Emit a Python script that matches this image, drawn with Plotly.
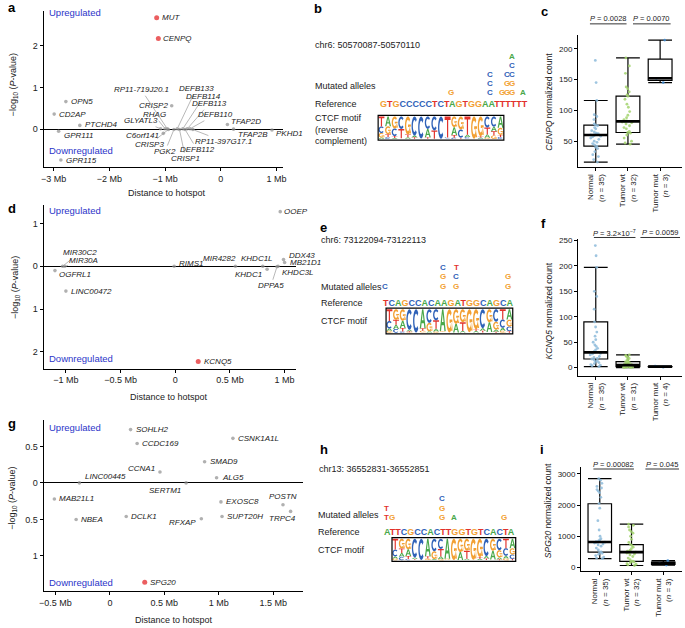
import math
import plotly.graph_objects as go

W, H = 685, 628
FONT = "Liberation Sans, Arial, Helvetica, sans-serif"

# ======================= DATA =======================
# Panel a : genes around the chr6 hotspot (distance in Mb, signed -log10 P; + = up)
a_genes = ["MUT", "CENPQ", "OPN5", "CD2AP", "PTCHD4", "GPR111", "GPR115",
           "CRISP2", "C6orf141", "GLYATL3", "RHAG", "RP11-719J20.1", "CRISP3",
           "PGK2", "CRISP1", "DEFB133", "DEFB114", "DEFB112", "DEFB113",
           "DEFB110", "RP11-397G17.1", "TFAP2D", "TFAP2B", "PKHD1"]
a_dist_mb = [-1.15, -1.12, -2.78, -2.99, -2.53, -2.91, -2.87,
             -0.88, -1.03, -1.08, -1.00, -0.96, -0.94,
             -0.84, -0.74, -0.78, -0.68, -0.64, -0.60,
             -0.55, -0.50, 0.12, 0.23, 0.92]
a_signed_logp = [2.67, 2.17, 0.66, 0.36, 0.09, -0.05, -0.74,
                 0.56, -0.10, 0.01, 0.01, 0.01, -0.01,
                 -0.01, -0.01, 0.01, 0.01, -0.01, 0.01,
                 0.01, -0.01, 0.11, 0.00, -0.02]
a_significant = [True, True] + [False] * 22

# Panel d
d_genes = ["KCNQ5", "OOEP", "MIR30C2", "MIR30A", "OGFRL1", "LINC00472", "RIMS1",
           "MIR4282", "KHDC1L", "KHDC1", "DDX43", "MB21D1", "KHDC3L", "DPPA5"]
d_dist_mb = [0.21, 0.96, -1.03, -1.01, -1.10, -1.00, -0.01,
             0.55, 0.80, 0.84, 0.99, 1.00, 0.94, 0.93]
d_signed_logp = [-2.23, 1.28, 0.00, 0.00, -0.10, -0.58, 0.00,
                 0.00, 0.00, -0.07, 0.16, 0.09, 0.00, -0.01]
d_significant = [True] + [False] * 13

# Panel g
g_genes = ["SPG20", "SOHLH2", "CCDC169", "CSNK1A1L", "SMAD9", "CCNA1", "ALG5",
           "LINC00445", "SERTM1", "MAB21L1", "NBEA", "DCLK1", "RFXAP", "EXOSC8",
           "SUPT20H", "POSTN", "TRPC4"]
g_dist_mb = [0.32, 0.19, 0.25, 1.13, 0.87, 0.46, 0.98,
             -0.28, 0.70, -0.51, -0.31, 0.15, 0.84, 1.02,
             1.03, 1.59, 1.66]
g_signed_logp = [-1.36, 0.73, 0.54, 0.61, 0.29, 0.15, 0.07,
                 0.00, 0.00, -0.22, -0.50, -0.46, -0.49, -0.26,
                 -0.46, -0.30, -0.39]
g_significant = [True] + [False] * 16

# Box plot panels
groups = ["Normal", "Tumor wt", "Tumor mut"]

c_n = [35, 32, 3]
c_q1 = [42, 64, 148.5]
c_med = [60, 82, 152]
c_q3 = [76, 123, 183]
c_lo = [16, 45, 145]
c_hi = [116, 185, 214]
c_normal = [16, 20, 25, 28, 33, 38, 40, 42, 44, 46, 48, 50, 53, 55, 57, 58, 59, 60,
            60, 61, 62, 63, 65, 67, 70, 72, 75, 76, 78, 85, 90, 93, 116, 145, 181]
c_wt = [45, 47, 50, 55, 60, 63, 64, 66, 70, 72, 75, 78, 80, 81, 82, 82, 83, 85, 88,
        92, 98, 105, 110, 118, 123, 125, 130, 135, 138, 160, 172, 185]
c_mut = [145, 152, 214]

f_n = [35, 31, 4]
f_q1 = [17, 2, 1.8]
f_med = [30, 5, 2]
f_q3 = [90, 12, 2.3]
f_lo = [2, 0, 1]
f_hi = [197, 25, 3]
f_normal = [2, 4, 5, 6, 8, 10, 12, 13, 15, 17, 18, 20, 22, 25, 27, 28, 30, 30, 32,
            35, 38, 42, 45, 50, 55, 62, 70, 80, 90, 115, 140, 150, 197, 220, 240]
f_wt = [0, 0, 1, 1, 1, 2, 2, 2, 3, 3, 4, 4, 5, 5, 5, 6, 6, 7, 8, 9, 10, 11, 12, 12,
        14, 16, 18, 20, 22, 24, 25]
f_mut = [1, 2, 2, 3]

i_n = [35, 32, 3]
i_q1 = [492, 190, 97]
i_med = [813, 490, 120]
i_q3 = [2043, 730, 170]
i_lo = [280, 60, 75]
i_hi = [2850, 1390, 220]
i_normal = [280, 300, 330, 380, 420, 450, 480, 500, 560, 620, 680, 720, 750, 780,
            800, 810, 813, 830, 850, 880, 920, 1000, 1200, 1500, 1900, 2050, 2250,
            2400, 2450, 2500, 2550, 2600, 2700, 2800, 2850]
i_wt = [60, 80, 100, 120, 150, 170, 190, 200, 250, 300, 350, 400, 430, 460, 480, 490,
        500, 520, 550, 600, 650, 700, 730, 800, 900, 1000, 1100, 1150, 1200, 1300,
        1350, 1390]
i_mut = [75, 120, 220]

c_pvals = ["0.0028", "0.0070"]
f_pvals = ["3.2×10<sup>−7</sup>", "0.0059"]
i_pvals = ["0.00082", "0.045"]

# Sequences
b_region = "chr6: 50570087-50570110"
b_reference = "GTGCCCCCTCTAGTGGAATTTTTT"
b_mutated = {11: "G", 17: "CCC", 19: "G", 20: "GGC", 21: "GGCCA", 23: "A"}   # bottom -> top
e_region = "chr6: 73122094-73122113"
e_reference = "TCAGCCACAAGATGGCAGCA"
e_mutated = {0: "C", 9: "GGC", 11: "GCT", 19: "GG"}
h_region = "chr13: 36552831-36552851"
h_reference = "ATTCGCCACTTGGTGTCACTA"
h_mutated = {0: "TT", 1: "G", 9: "GGC", 11: "A", 19: "G"}

# CTCF motif (forward) letter counts per position
ctcf_A = [87, 167, 281, 56, 8, 744, 40, 107, 851, 5, 333, 54, 12, 56, 104, 372, 82, 117, 402]
ctcf_C = [291, 145, 49, 800, 903, 13, 528, 433, 11, 0, 3, 12, 0, 8, 733, 13, 482, 322, 181]
ctcf_G = [76, 414, 449, 21, 0, 65, 334, 48, 32, 903, 566, 504, 890, 775, 5, 507, 307, 73, 266]
ctcf_T = [459, 187, 134, 36, 2, 91, 11, 324, 18, 3, 9, 341, 8, 71, 67, 17, 37, 396, 59]

# ======================= STYLE / HELPERS =======================
NUC_COL = {"A": "#4aa84a", "C": "#2f62b8", "G": "#f2a033", "T": "#e2322b"}
BLUE_TXT = "#2b35c9"
PT_COLORS = ["#8dbbdb", "#a3d46e", "#3f8bd0"]


def px(x):
    return x / W


def py(y):
    return 1 - y / H


anns = []
shapes = []


def ann(x, y, text, size=9, xanchor="left", yanchor="middle", color="#222", **kw):
    d = dict(x=px(x), y=py(y), xref="paper", yref="paper", text=text, showarrow=False,
             xanchor=xanchor, yanchor=yanchor, font=dict(family=FONT, size=size, color=color))
    d.update(kw)
    anns.append(d)


fig = go.Figure()

# ---------------- volcano-like panels ----------------
a_place = {
    "MUT": ("r", 3, 0), "CENPQ": ("r", 3, 0), "OPN5": ("r", 3, 0), "CD2AP": ("r", 3, 0),
    "PTCHD4": ("r", 3, 1), "GPR111": ("r", 3, -4), "GPR115": ("r", 3, 0),
    "CRISP2": ("l", -2, 0), "C6orf141": ("l", -2, -2),
    "GLYATL3": ("line", -20, -8), "RHAG": ("line", -11, -14),
    "RP11-719J20.1": ("line", -26, -39), "CRISP3": ("line", -19, 15),
    "PGK2": ("line", -9, 22), "CRISP1": ("line", 6, 29), "DEFB133": ("line", 19, -40),
    "DEFB114": ("line", 21, -32), "DEFB112": ("line", 12, 20), "DEFB113": ("line", 22, -25),
    "DEFB110": ("line", 25, -14), "RP11-397G17.1": ("line", 31, 12),
    "TFAP2D": ("r", 2, 3), "TFAP2B": ("r", 2, -5), "PKHD1": ("r", 2, -4),
}
d_place = {
    "KCNQ5": ("r", 4, 0), "OOEP": ("r", 2, 0), "MIR30C2": ("line", 17, -14),
    "MIR30A": ("line", 19, -6), "OGFRL1": ("r", 2, -4), "LINC00472": ("r", 3, 0),
    "RIMS1": ("r", 3, 3), "MIR4282": ("l", 3, 8), "KHDC1L": ("c", -6, 8),
    "KHDC1": ("l", -3, -5), "DDX43": ("r", 3, 4), "MB21D1": ("r", 3, 0),
    "KHDC3L": ("r", 2, -6), "DPPA5": ("line", -6, 19),
}
g_place = {
    "SPG20": ("r", 3, 0), "SOHLH2": ("r", 3, 0), "CCDC169": ("r", 3, 0),
    "CSNK1A1L": ("r", 3, 0), "SMAD9": ("r", 3, 0), "CCNA1": ("l", -3, 3),
    "ALG5": ("r", 3, 0), "LINC00445": ("r", 4, 6), "SERTM1": ("l", -3, -8),
    "MAB21L1": ("r", 3, 0), "NBEA": ("r", 3, 0), "DCLK1": ("r", 3, 0),
    "RFXAP": ("l", -3, -4), "EXOSC8": ("r", 3, 0), "SUPT20H": ("r", 3, 0),
    "POSTN": ("c", 0, 8), "TRPC4": ("c", -8, -7),
}


def add_volcano(genes, dist, logp, sig, place, xa, ya):
    cols = ["#e31a1c" if s else "#8f8f8f" for s in sig]
    sizes = [5 if s else 3.6 for s in sig]
    fig.add_trace(go.Scatter(x=dist, y=logp, mode="markers", text=genes,
                             marker=dict(color=cols, size=sizes, line=dict(width=0)),
                             xaxis=xa, yaxis=ya, showlegend=False, cliponaxis=False,
                             hoverinfo="text"))
    for g, xv, yv in zip(genes, dist, logp):
        kind, a, b = place[g]
        d = dict(x=xv, y=yv, xref=xa, yref=ya, text="<i>%s</i>" % g,
                 font=dict(family=FONT, size=8, color="#222"))
        if kind == "line":
            d.update(showarrow=True, ax=a, ay=b, arrowhead=0, arrowwidth=0.7,
                     arrowcolor="#9a9a9a", standoff=1.5)
        else:
            d.update(showarrow=False, yanchor="middle", xshift=a, yshift=b,
                     xanchor={"r": "left", "l": "right", "c": "center"}[kind])
        anns.append(d)


add_volcano(a_genes, a_dist_mb, a_signed_logp, a_significant, a_place, "x", "y")
add_volcano(d_genes, d_dist_mb, d_signed_logp, d_significant, d_place, "x3", "y3")
add_volcano(g_genes, g_dist_mb, g_signed_logp, g_significant, g_place, "x5", "y5")


# ---------------- box plot panels ----------------
def add_box_panel(xa, ya, q1, med, q3, lo, hi, pts_list):
    fig.add_trace(go.Box(x=[0, 1, 2], q1=q1, median=med, q3=q3, lowerfence=lo,
                         upperfence=hi, width=0.74, whiskerwidth=1, boxpoints=False,
                         line=dict(color="black", width=1.2),
                         fillcolor="rgba(255,255,255,0)", xaxis=xa, yaxis=ya,
                         showlegend=False, hoverinfo="skip"))
    for k, (pts, col) in enumerate(zip(pts_list, PT_COLORS)):
        fig.add_trace(go.Box(y=pts, x0=k, boxpoints="all", jitter=0.5, pointpos=0,
                             marker=dict(color=col, size=2.8, opacity=0.85),
                             line=dict(width=0, color="rgba(0,0,0,0)"),
                             fillcolor="rgba(0,0,0,0)", width=0.74, xaxis=xa, yaxis=ya,
                             showlegend=False))
    mx, my = [], []
    for k, m in enumerate(med):
        mx += [k - 0.37, k + 0.37, None]
        my += [m, m, None]
    fig.add_trace(go.Scatter(x=mx, y=my, mode="lines", line=dict(color="black", width=2.6),
                             xaxis=xa, yaxis=ya, showlegend=False, hoverinfo="skip"))


add_box_panel("x2", "y2", c_q1, c_med, c_q3, c_lo, c_hi, [c_normal, c_wt, c_mut])
add_box_panel("x4", "y4", f_q1, f_med, f_q3, f_lo, f_hi, [f_normal, f_wt, f_mut])
add_box_panel("x6", "y6", i_q1, i_med, i_q3, i_lo, i_hi, [i_normal, i_wt, i_mut])


def cat_labels(ns):
    return ["%s<br>(<i>n</i> = %d)" % (g, n) for g, n in zip(groups, ns)]


# P value annotations with underline
def pval(pvals, y, centers, widths):
    for p, cx, w in zip(pvals, centers, widths):
        ann(cx, y, "<i>P</i> = %s" % p, size=7.5, xanchor="center")
        shapes.append(dict(type="line", xref="paper", yref="paper", x0=px(cx - w / 2),
                           x1=px(cx + w / 2), y0=py(y + 5), y1=py(y + 5),
                           line=dict(color="black", width=0.8)))


pval(c_pvals, 16, [610.5, 654.5], [37, 38])
pval(f_pvals, 231, [617, 663], [42, 40])
pval(i_pvals, 464, [616, 665], [41, 34])


# ---------------- sequence / motif panels ----------------
def arc(cx, cy, rx, ry, a0, a1, n=24):
    out = []
    for k in range(n):
        t = math.radians(a0 + (a1 - a0) * k / (n - 1))
        out.append((cx + rx * math.cos(t), cy + ry * math.sin(t)))
    return out


def signed_area(p):
    s = 0
    for k in range(len(p)):
        x1, y1 = p[k]
        x2, y2 = p[(k + 1) % len(p)]
        s += x1 * y2 - x2 * y1
    return s / 2


def orient(p, ccw=True):
    return p if (signed_area(p) > 0) == ccw else p[::-1]


GLYPHS = {
    "T": [orient([(0, 1), (1, 1), (1, 0.83), (0.6, 0.83), (0.6, 0), (0.4, 0), (0.4, 0.83), (0, 0.83)])],
    "A": [orient([(0, 0), (0.39, 1), (0.61, 1), (1, 0), (0.78, 0), (0.69, 0.27), (0.31, 0.27), (0.22, 0)]),
          orient([(0.37, 0.42), (0.63, 0.42), (0.5, 0.8)], ccw=False)],
    "C": [orient(arc(0.5, 0.5, 0.5, 0.5, 42, 318) + arc(0.5, 0.5, 0.28, 0.31, 318, 42))],
    "G": [orient(arc(0.5, 0.5, 0.5, 0.5, 42, 352) + arc(0.5, 0.5, 0.28, 0.31, 352, 42)),
          orient([(0.52, 0.56), (1, 0.56), (1, 0.06), (0.82, 0.06), (0.82, 0.42), (0.52, 0.42)])],
}


def glyph(letter, x0, ytop, x1, ybot):
    parts = []
    for poly in GLYPHS[letter]:
        pts = [(px(x0 + u * (x1 - x0)), py(ybot - v * (ybot - ytop))) for u, v in poly]
        parts.append("M" + "L".join("%.5f,%.5f" % q for q in pts) + "Z")
    shapes.append(dict(type="path", path=" ".join(parts), xref="paper", yref="paper",
                       fillcolor=NUC_COL[letter], line=dict(width=0)))


def draw_logo(x0, y0, x1, y1, revcomp):
    cols = []
    for k in range(len(ctcf_A)):
        tot = ctcf_A[k] + ctcf_C[k] + ctcf_G[k] + ctcf_T[k]
        cols.append({"A": ctcf_A[k] / tot, "C": ctcf_C[k] / tot,
                     "G": ctcf_G[k] / tot, "T": ctcf_T[k] / tot})
    if revcomp:
        comp = {"A": "T", "C": "G", "G": "C", "T": "A"}
        cols = [{comp[l]: v for l, v in c.items()} for c in cols[::-1]]
    cw = (x1 - x0) / len(cols)
    top, bot = y0 + 1.2, y1 - 1.2
    hh = bot - top
    for k, c in enumerate(cols):
        yb = bot
        for l, p in sorted(c.items(), key=lambda kv: kv[1]):
            h = p * hh
            if h > 0.5:
                glyph(l, x0 + k * cw + 0.35, yb - h, x0 + (k + 1) * cw - 0.35, yb)
            yb -= h
    shapes.append(dict(type="rect", xref="paper", yref="paper", x0=px(x0), x1=px(x1),
                       y0=py(y1), y1=py(y0), line=dict(color="black", width=1.2)))


LW = {"A": 0.722, "C": 0.722, "G": 0.778, "T": 0.611}


def draw_sequence(x0, yref_row, seq, mutated, rows_y, size=9):
    html = "".join("<span style='color:%s'>%s</span>" % (NUC_COL[c], c) for c in seq)
    ann(x0, yref_row, "<b>%s</b>" % html, size=size, xanchor="left")
    centers, cum = [], 0.0
    for c in seq:
        w = LW[c] * size
        centers.append(x0 + cum + w / 2)
        cum += w
    for pos, letters in mutated.items():
        for r, l in enumerate(letters):
            ann(centers[pos] + 1, rows_y[r], "<b>%s</b>" % l, size=8, xanchor="center",
                color=NUC_COL[l])


# panel b
ann(312, 42, b_region, size=9)
ann(312, 84, "Mutated alleles", size=9)
ann(312, 102, "Reference", size=9)
ann(312, 127, "CTCF motif<br>(reverse<br>complement)", size=9, align="left")
draw_sequence(378, 102, b_reference, b_mutated, [90, 81, 72, 63, 54])
draw_logo(378, 113, 505, 138, True)

# panel e
ann(318, 239, e_region, size=9)
ann(318, 286, "Mutated alleles", size=9)
ann(318, 302, "Reference", size=9)
ann(318, 320, "CTCF motif", size=9)
draw_sequence(381, 302, e_reference, e_mutated, [285, 275.5, 266])
draw_logo(386, 307, 514, 333, False)

# panel h
ann(316, 469, h_region, size=9)
ann(315, 515, "Mutated alleles", size=9)
ann(315, 532, "Reference", size=9)
ann(315, 551, "CTCF motif", size=9)
draw_sequence(382, 532, h_reference, h_mutated, [518, 508.5, 499])
draw_logo(392, 538, 517, 562, False)

# ---------------- titles / labels ----------------
for letter, x, y in [("a", 2, 5), ("b", 311, 6), ("c", 541, 9), ("d", 2, 207),
                     ("e", 317, 226), ("f", 541, 222), ("g", 2, 423), ("h", 317, 449),
                     ("i", 540, 449)]:
    ann(x, y, "<b>%s</b>" % letter, size=13, color="black")

ylab = "−log<sub>10</sub> (<i>P</i>-value)"
ann(10, 82, ylab, size=9, xanchor="center", textangle=-90)
ann(11, 286, ylab, size=9, xanchor="center", textangle=-90)
ann(9, 498, ylab, size=9, xanchor="center", textangle=-90)
ann(165, 191, "Distance to hotspot", size=9, xanchor="center")
ann(167, 397, "Distance to hotspot", size=9, xanchor="center")
ann(172, 621, "Distance to hotspot", size=9, xanchor="center")
for y_up, y_dn in [(10, 148), (209, 358), (427, 583)]:
    ann(43, y_up, "Upregulated", size=9.5, color=BLUE_TXT)
    ann(43, y_dn, "Downregulated", size=9.5, color=BLUE_TXT)

ann(551, 99, "<i>CENPQ</i> normalized count", size=8.5, xanchor="center", textangle=-90)
ann(551, 310, "<i>KCNQ5</i> normalized count", size=8.5, xanchor="center", textangle=-90)
ann(549, 511, "<i>SPG20</i> normalized count", size=8.5, xanchor="center", textangle=-90)

# ---------------- axes ----------------
base = dict(showline=True, linecolor="black", linewidth=1, ticks="outside", ticklen=3,
            tickwidth=1, tickcolor="black", showgrid=False, zeroline=False,
            tickfont=dict(family=FONT, size=9, color="#222"), fixedrange=True)


def xax(d0, d1, r, anchor, **kw):
    d = dict(base, domain=[px(d0), px(d1)], range=r, anchor=anchor)
    d.update(kw)
    return d


def yax(t, b, r, anchor, **kw):
    d = dict(base, domain=[py(b), py(t)], range=r, anchor=anchor)
    d.update(kw)
    return d


zl = dict(zeroline=True, zerolinecolor="black", zerolinewidth=1.3)
boxtick = dict(family=FONT, size=8, color="#222")

layout = dict(
    width=W, height=H, margin=dict(l=0, r=0, t=0, b=0),
    paper_bgcolor="white", plot_bgcolor="white", boxmode="overlay", showlegend=False,
    font=dict(family=FONT),
    # a
    xaxis=xax(40, 282, [-3.18, 1.12], "y", tickvals=[-3, -2, -1, 0, 1],
              ticktext=["−3 Mb", "−2 Mb", "−1 Mb", "0", "1 Mb"]),
    yaxis=yax(8, 165, [-0.905, 2.83], "x", tickvals=[0, 1, 2], ticktext=["0", "1", "2"], **zl),
    # c
    xaxis2=xax(580, 685, [-0.55, 2.68], "y2", tickvals=[0, 1, 2], ticktext=cat_labels(c_n),
               tickangle=-90, tickfont=boxtick),
    yaxis2=yax(32, 165, [8.1, 222.6], "x2", tickvals=[50, 100, 150, 200], tickfont=boxtick),
    # d
    xaxis3=xax(40, 295, [-1.204, 1.104], "y3", tickvals=[-1, -0.5, 0, 0.5, 1],
               ticktext=["−1 Mb", "−0.5 Mb", "0", "0.5 Mb", "1 Mb"]),
    yaxis3=yax(203, 368, [-2.395, 1.442], "x3", tickvals=[1, 0, -1, -2],
               ticktext=["1", "0", "1", "2"], **zl),
    # f
    xaxis4=xax(580, 685, [-0.55, 2.68], "y4", tickvals=[0, 1, 2], ticktext=cat_labels(f_n),
               tickangle=-90, tickfont=boxtick),
    yaxis4=yax(238, 375, [-15.6, 252], "x4", tickvals=[0, 50, 100, 150, 200, 250], tickfont=boxtick),
    # g
    xaxis5=xax(40, 302, [-0.609, 1.773], "y5", tickvals=[-0.5, 0, 0.5, 1, 1.5],
               ticktext=["−0.5 Mb", "0", "0.5 Mb", "1 Mb", "1.5 Mb"]),
    yaxis5=yax(420, 592, [-1.483, 0.857], "x5", tickvals=[0.5, 0, -0.5, -1],
               ticktext=["0.5", "0", "0.5", "1"], **zl),
    # i
    xaxis6=xax(583, 685, [-0.59, 2.59], "y6", tickvals=[0, 1, 2], ticktext=cat_labels(i_n),
               tickangle=-90, tickfont=boxtick),
    yaxis6=yax(467, 572, [-128, 3223], "x6", tickvals=[0, 1000, 2000, 3000], tickfont=boxtick),
    annotations=anns,
    shapes=shapes,
)
fig.update_layout(**layout)
fig.write_html("out.html", config={"displayModeBar": False},
               post_script="document.body.style.margin='0';document.body.style.overflow='hidden';")
